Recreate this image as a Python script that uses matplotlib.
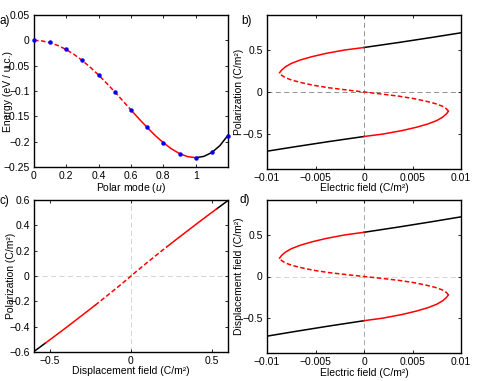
import numpy as np
import matplotlib
matplotlib.use('Agg')
import matplotlib.pyplot as plt

plt.rcParams['font.family'] = ['Liberation Sans', 'DejaVu Sans']
plt.rcParams['mathtext.fontset'] = 'custom'
plt.rcParams['mathtext.rm'] = 'Liberation Sans'
plt.rcParams['mathtext.it'] = 'Liberation Sans:italic'
plt.rcParams['font.size'] = 7.5

# ---- data ----
# a) energy vs polar mode, computed points (blue dots)
u_pts = [0, 0.1, 0.2, 0.3, 0.4, 0.5, 0.6, 0.7, 0.8, 0.9, 1.0, 1.1, 1.2]
energy_pts = [0.0, -0.0033, -0.017, -0.0395, -0.068, -0.102, -0.137, -0.172,
              -0.2026, -0.2237, -0.2316, -0.221, -0.189]

# a) fitted curve through the dots
u_fit = [0, 0.05, 0.1, 0.15, 0.2, 0.25, 0.3, 0.35, 0.4, 0.45, 0.5, 0.55, 0.6,
         0.65, 0.7, 0.75, 0.8, 0.85, 0.9, 0.95, 1.0, 1.05, 1.1, 1.15, 1.2]
energy_fit = [0.0, -0.0012, -0.0047, -0.0104, -0.0183, -0.0283, -0.0402,
              -0.0537, -0.0687, -0.0849, -0.1020, -0.1196, -0.1375, -0.1551,
              -0.1720, -0.1879, -0.2021, -0.2141, -0.2235, -0.2295, -0.2316,
              -0.2291, -0.2214, -0.2077, -0.1873]

# b) polarization vs electric field (S-curve)
pol = [-0.705, -0.65, -0.59, -0.53, -0.50, -0.46, -0.42, -0.38, -0.34, -0.30,
       -0.26, -0.23, -0.20, -0.17, -0.14, -0.11, -0.08, -0.05, -0.02, 0.0,
       0.02, 0.05, 0.08, 0.11, 0.14, 0.17, 0.20, 0.23, 0.26, 0.30, 0.34,
       0.38, 0.42, 0.46, 0.50, 0.53, 0.59, 0.65, 0.705]
efield = [-0.0100, -0.0070, -0.0036, 0.0, 0.0020, 0.0039, 0.0054, 0.0066,
          0.0075, 0.0081, 0.0085, 0.0087, 0.0085, 0.0081, 0.0074, 0.0064,
          0.0052, 0.0036, 0.0015, 0.0,
          -0.0015, -0.0036, -0.0052, -0.0064, -0.0074, -0.0081, -0.0085,
          -0.0087, -0.0085, -0.0081, -0.0075, -0.0066, -0.0054, -0.0039,
          -0.0020, 0.0, 0.0036, 0.0070, 0.0100]

pol = np.array(pol)
efield = np.array(efield)
disp = pol + efield   # D = E + P (units as in the figure)

red = '#ff0000'
lw = 1.1
red_dash = (3, 1.6)


def style_axes(ax):
    for s in ax.spines.values():
        s.set_linewidth(1.0)
    ax.tick_params(direction='in', length=2.5, width=0.6, top=True, right=True,
                   pad=3, labelsize=7.5)


def plot_s_curve(ax, x, y, p):
    # stable (black), metastable (red solid), unstable (red dashed)
    for sgn in (1, -1):
        m = (sgn * p >= 0.53)
        ax.plot(x[m], y[m], color='k', lw=lw)
        m = (sgn * p >= 0.23) & (sgn * p <= 0.53)
        ax.plot(x[m], y[m], color=red, lw=lw)
    m = np.abs(p) <= 0.23
    ax.plot(x[m], y[m], color=red, lw=lw, dashes=red_dash)


def zero_lines(ax, cx, cy):
    ax.axvline(0, color=cx, lw=0.6, dashes=(6, 4), zorder=0)
    ax.axhline(0, color=cy, lw=0.6, dashes=(6, 4), zorder=0)


fig = plt.figure(figsize=(4.85, 3.81), dpi=100)

ax_a = fig.add_axes([34/485, 1-167/381, 194/485, 152/381])
ax_b = fig.add_axes([267/485, 1-169/381, 194/485, 154/381])
ax_c = fig.add_axes([34/485, 1-352/381, 194/485, 152/381])
ax_d = fig.add_axes([267/485, 1-353/381, 194/485, 153/381])

# ---- a) ----
uf = np.array(u_fit)
ef = np.array(energy_fit)
m = uf <= 0.6
ax_a.plot(uf[m], ef[m], color=red, lw=lw, dashes=red_dash)
m = (uf >= 0.6) & (uf <= 1.0)
ax_a.plot(uf[m], ef[m], color=red, lw=lw)
m = uf >= 1.0
ax_a.plot(uf[m], ef[m], color='k', lw=lw)
ax_a.plot(u_pts, energy_pts, 'o', color='#0000ff', ms=3.2, mew=0, zorder=5,
          clip_on=False)
ax_a.set_xlim(0, 1.2)
ax_a.set_ylim(-0.25, 0.05)
ax_a.set_xticks([0, 0.2, 0.4, 0.6, 0.8, 1.0])
ax_a.set_xticklabels(['0', '0.2', '0.4', '0.6', '0.8', '1'])
ax_a.set_yticks([-0.25, -0.2, -0.15, -0.1, -0.05, 0, 0.05])
ax_a.set_yticklabels(['\u22120.25', '\u22120.2', '\u22120.15', '\u22120.1',
                      '\u22120.05', '0', '0.05'])
ax_a.set_xlabel('Polar mode ($u$)', va='top')
ax_a.set_ylabel('Energy (eV / u.c.)')
ax_a.xaxis.set_label_coords(0.5, -0.095)
ax_a.yaxis.set_label_coords(-0.11, 0.5)
style_axes(ax_a)

# ---- b) and d) ----
e_ticks = [-0.01, -0.005, 0, 0.005, 0.01]
e_labels = ['\u22120.01', '\u22120.005', '0', '0.005', '0.01']

plot_s_curve(ax_b, efield, pol, pol)
zero_lines(ax_b, '#808080', '#808080')
ax_b.set_xlim(-0.01, 0.01)
ax_b.set_ylim(-0.917, 0.917)
ax_b.set_xticks(e_ticks)
ax_b.set_xticklabels(e_labels)
ax_b.set_yticks([-0.5, 0, 0.5])
ax_b.set_yticklabels(['\u22120.5', '0', '0.5'])
ax_b.set_xlabel('Electric field (C/m²)', va='top')
ax_b.set_ylabel('Polarization (C/m²)')
ax_b.xaxis.set_label_coords(0.5, -0.088)
ax_b.yaxis.set_label_coords(-0.118, 0.5)
style_axes(ax_b)

plot_s_curve(ax_d, efield, disp, pol)
zero_lines(ax_d, '#999999', '#cccccc')
ax_d.set_xlim(-0.01, 0.01)
ax_d.set_ylim(-0.917, 0.917)
ax_d.set_xticks(e_ticks)
ax_d.set_xticklabels(e_labels)
ax_d.set_yticks([-0.5, 0, 0.5])
ax_d.set_yticklabels(['\u22120.5', '0', '0.5'])
ax_d.set_xlabel('Electric field (C/m²)', va='top')
ax_d.set_ylabel('Displacement field (C/m²)')
ax_d.xaxis.set_label_coords(0.5, -0.095)
ax_d.yaxis.set_label_coords(-0.118, 0.5)
style_axes(ax_d)

# ---- c) ----
plot_s_curve(ax_c, disp, pol, pol)
zero_lines(ax_c, '#cccccc', '#cccccc')
ax_c.set_xlim(-0.6, 0.6)
ax_c.set_ylim(-0.6, 0.6)
ax_c.set_xticks([-0.5, 0, 0.5])
ax_c.set_xticklabels(['\u22120.5', '0', '0.5'])
ax_c.set_yticks([-0.6, -0.4, -0.2, 0, 0.2, 0.4, 0.6])
ax_c.set_yticklabels(['\u22120.6', '\u22120.4', '\u22120.2', '0', '0.2',
                      '0.4', '0.6'])
ax_c.set_xlabel('Displacement field (C/m²)', va='top')
ax_c.set_ylabel('Polarization (C/m²)')
ax_c.xaxis.set_label_coords(0.5, -0.095)
ax_c.yaxis.set_label_coords(-0.092, 0.5)
style_axes(ax_c)

# panel letters
fig.text(0/485, 1-21/381, 'a)', va='center', ha='left', fontsize=8.5)
fig.text(241/485, 1-21/381, 'b)', va='center', ha='left', fontsize=8.5)
fig.text(0/485, 1-201/381, 'c)', va='center', ha='left', fontsize=8.5)
fig.text(240/485, 1-200/381, 'd)', va='center', ha='left', fontsize=8.5)

fig.savefig('out.png', dpi=100)
